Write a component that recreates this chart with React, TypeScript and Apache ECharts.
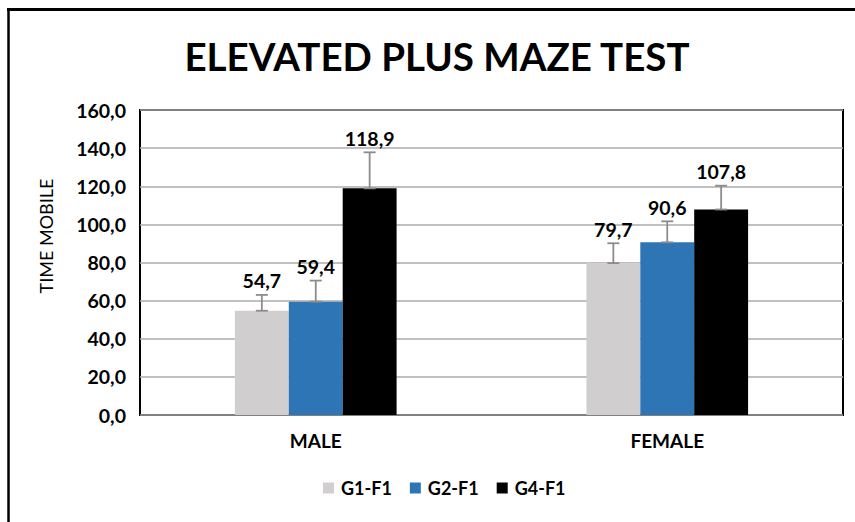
import React, { useEffect, useRef } from "react";
import * as echarts from "echarts";

const categories = ["MALE", "FEMALE"];
const seriesNames = ["G1-F1", "G2-F1", "G4-F1"];
const seriesColors = ["#d0cece", "#2e75b6", "#000000"];
const g1Values = [54.7, 79.7];
const g2Values = [59.4, 90.6];
const g4Values = [118.9, 107.8];
const g1Errors = [8.3, 10.4];
const g2Errors = [11.1, 11.0];
const g4Errors = [18.9, 12.5];
const yTicks = [0, 20, 40, 60, 80, 100, 120, 140, 160];

const FONT = "Lato";

const fmt = (v: number) => v.toFixed(1).replace(".", ",");

export default function App() {
  const ref = useRef<HTMLDivElement>(null);
  useEffect(() => {
    document.body.style.margin = "0";
    if (!ref.current) return;
    const chart = echarts.init(ref.current, undefined, { renderer: "svg" });
    const values = [g1Values, g2Values, g4Values];
    const errors = [g1Errors, g2Errors, g4Errors];
    const errData: number[][] = [];
    values.forEach((vals, s) => {
      vals.forEach((v, c) => errData.push([c, s, v, errors[s][c]]));
    });
    const gapFrac = 0.54;
    chart.setOption({
      animation: false,
      textStyle: { fontFamily: FONT },
      grid: {
        left: 140,
        top: 110,
        right: 12,
        bottom: 107,
        show: true,
        borderColor: "#000",
        borderWidth: 2,
      },
      legend: {
        bottom: 20,
        left: 318,
        itemWidth: 11,
        itemHeight: 11,
        itemGap: 18,
        icon: "rect",
        data: seriesNames,
        textStyle: { fontFamily: FONT, fontWeight: "bold", fontSize: 18, color: "#000", padding: [0, 0, 0, 2] },
      },
      xAxis: {
        type: "category",
        data: categories,
        axisLine: { show: false },
        axisTick: { show: false },
        axisLabel: { fontFamily: FONT, fontWeight: "bold", fontSize: 19, color: "#000", margin: 16 },
      },
      yAxis: {
        type: "value",
        min: yTicks[0],
        max: yTicks[yTicks.length - 1],
        interval: 20,
        axisLine: { show: false },
        axisTick: { show: false },
        splitLine: { lineStyle: { color: "#ababab", width: 1.5 } },
        axisLabel: {
          fontFamily: FONT,
          fontWeight: "bold",
          fontSize: 19.5,
          color: "#000",
          margin: 14,
          formatter: (v: number) => fmt(v),
        },
      },
      graphic: [
        {
          type: "text",
          x: 437,
          y: 56,
          style: {
            text: "ELEVATED PLUS MAZE TEST",
            fontFamily: FONT,
            fontWeight: "bold",
            fontSize: 38.5,
            fill: "#000",
            textAlign: "center",
            textVerticalAlign: "middle",
          },
        },
        {
          type: "text",
          x: 46,
          y: 236,
          rotation: Math.PI / 2,
          style: {
            text: "TIME MOBILE",
            fontFamily: FONT,
            fontSize: 18,
            fill: "#000",
            textAlign: "center",
            textVerticalAlign: "middle",
          },
        },
        {
          type: "line",
          shape: { x1: 7, y1: 9.5, x2: 855, y2: 9.5 },
          style: { stroke: "#000", lineWidth: 3 },
        },
        {
          type: "line",
          shape: { x1: 8.5, y1: 8, x2: 8.5, y2: 522 },
          style: { stroke: "#000", lineWidth: 2.5 },
        },
      ],
      series: [
        ...values.map((vals, s) => ({
          type: "bar",
          name: seriesNames[s],
          data: vals,
          barGap: "0%",
          barCategoryGap: gapFrac * 100 + "%",
          itemStyle: { color: seriesColors[s] },
        })),
        {
          type: "custom",
          name: "err",
          data: errData,
          z: 10,
          encode: { x: 0, y: 2 },
          renderItem: (params: any, api: any) => {
            const cat = api.value(0);
            const s = api.value(1);
            const val = api.value(2);
            const err = api.value(3);
            const base = api.coord([cat, val]);
            const top = api.coord([cat, val + err]);
            const band = api.size([1, 0])[0];
            const bw = (band * (1 - gapFrac)) / 3;
            const x = base[0] + (s - 1) * bw;
            const cap = 6;
            const st = { stroke: "#8c8c8c", lineWidth: 1.8 };
            return {
              type: "group",
              children: [
                { type: "line", shape: { x1: x, y1: base[1], x2: x, y2: top[1] }, style: st },
                { type: "line", shape: { x1: x - cap, y1: top[1], x2: x + cap, y2: top[1] }, style: st },
                { type: "line", shape: { x1: x - cap, y1: base[1], x2: x + cap, y2: base[1] }, style: st },
                {
                  type: "text",
                  x: x,
                  y: top[1] - 14,
                  style: {
                    text: fmt(val),
                    fontFamily: FONT,
                    fontWeight: "bold",
                    fontSize: 19.5,
                    fill: "#000",
                    textAlign: "center",
                    textVerticalAlign: "middle",
                  },
                },
              ],
            };
          },
        },
      ],
    });
    return () => chart.dispose();
  }, []);
  return <div ref={ref} style={{ width: 855, height: 522 }} />;
}
